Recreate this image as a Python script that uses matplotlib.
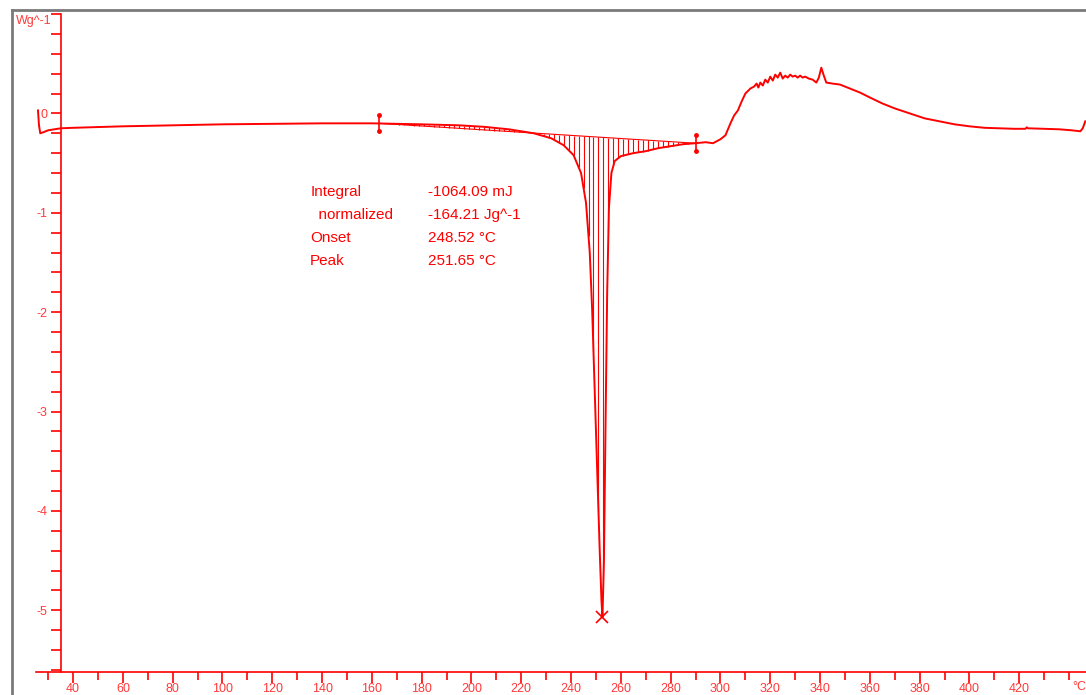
import numpy as np
import matplotlib
matplotlib.use("Agg")
import matplotlib.pyplot as plt
from matplotlib.lines import Line2D

plt.rcParams['font.family'] = ['Liberation Sans', 'DejaVu Sans']

# DSC heat flow curve (temperature in C, heat flow in W/g)
temp = [25.9, 26.3, 26.8, 28, 30, 35, 40, 60, 80, 100, 120, 140, 160, 180, 195, 205,
        215, 225, 232, 237, 241, 244, 246, 247.5, 248.5, 249.5, 250.5, 251.5, 252.2,
        252.6, 253.2, 253.8, 254.5, 255.2, 256.2, 257.5, 260, 265, 270, 275, 280, 285,
        290, 294, 297, 300, 302, 304, 305.5, 307, 308.5, 310, 312, 313.5, 314.5, 315.2,
        316, 317, 318, 319, 320, 321, 322, 323, 324, 325, 326, 327, 328, 329, 330, 331,
        332, 333, 334, 335.5, 337, 338.5, 339.5, 340.5, 341.5, 342.5, 345, 348, 352,
        356, 360, 365, 370, 376, 382, 388, 394, 400, 406, 412, 418, 422.5, 423, 423.5,
        430, 436, 441, 444.5, 445.5, 446.5]
heat = [0.03, -0.12, -0.20, -0.19, -0.17, -0.15, -0.145, -0.13, -0.12, -0.11, -0.105,
        -0.10, -0.10, -0.11, -0.12, -0.135, -0.16, -0.20, -0.25, -0.32, -0.42, -0.60,
        -0.90, -1.40, -2.00, -2.80, -3.60, -4.40, -4.90, -5.07, -4.50, -3.20, -1.80,
        -0.95, -0.60, -0.48, -0.43, -0.40, -0.38, -0.35, -0.33, -0.31, -0.30, -0.29,
        -0.30, -0.26, -0.22, -0.10, -0.02, 0.03, 0.12, 0.20, 0.25, 0.27, 0.30, 0.26,
        0.31, 0.28, 0.34, 0.31, 0.37, 0.33, 0.39, 0.36, 0.41, 0.35, 0.38, 0.36, 0.39,
        0.37, 0.38, 0.36, 0.38, 0.36, 0.37, 0.35, 0.34, 0.31, 0.36, 0.46, 0.38, 0.31,
        0.30, 0.29, 0.25, 0.21, 0.16, 0.10, 0.05, 0.00, -0.05, -0.08, -0.11, -0.13,
        -0.145, -0.15, -0.155, -0.155, -0.14, -0.15, -0.155, -0.16, -0.17, -0.18,
        -0.15, -0.08]

# integration limits and peak
limits_t = [163, 290]
limits_w = [-0.10, -0.30]
peak_t, peak_w = 252.6, -5.07

labels = ["Integral", "  normalized", "Onset", "Peak"]
values = ["-1064.09 mJ", "-164.21 Jg^-1", "248.52 °C", "251.65 °C"]

red = "#ff0000"
lab = "#ff3a3a"

fig = plt.figure(figsize=(10.86, 6.95), dpi=100)
# grey frame of the original window
fig.add_artist(Line2D([12/1086, 12/1086], [0, 685/695], color="#7a7a7a", lw=2))
fig.add_artist(Line2D([12/1086, 1], [685/695, 685/695], color="#7a7a7a", lw=2))

ax = fig.add_axes([36/1086, 23/695, 1050/1086, 658/695])
ax.set_xlim(25.1, 446.8)
ax.set_ylim(-5.62, 1.0)
for s in ["top", "right"]:
    ax.spines[s].set_visible(False)
ax.spines["left"].set_position(("data", 35.2))
for s in ["left", "bottom"]:
    ax.spines[s].set_color(red)
    ax.spines[s].set_linewidth(1.2)
ax.patch.set_alpha(0)

ax.set_xticks(range(40, 421, 20))
ax.set_xticks(range(30, 441, 10), minor=True)
ax.set_yticks([-5, -4, -3, -2, -1, 0, 1])
ax.set_yticklabels(["-5", "-4", "-3", "-2", "-1", "0", ""])
ax.set_yticks(np.arange(-5.6, 1.01, 0.2), minor=True)
ax.tick_params(axis="x", which="major", length=8, width=1.2, color=red, labelcolor=lab,
               labelsize=9, pad=0)
ax.tick_params(axis="x", which="minor", length=6, width=1.2, color=red)
ax.tick_params(axis="y", which="both", length=7, width=1.2, color=red, labelcolor=lab,
               labelsize=9, pad=3)

ax.text(31.5, 0.93, "Wg^-1", color=lab, fontsize=9, ha="right", va="center")
ax.text(446.7, -5.77, "°C", color=lab, fontsize=9, ha="right", va="center", clip_on=False)

# hatched integral area between curve and linear baseline
ht = np.arange(165, 290, 2.0)
base = np.interp(ht, limits_t, limits_w)
curve = np.interp(ht, temp, heat)
ax.vlines(ht, base, curve, color=red, lw=0.8)
ax.plot(limits_t, limits_w, color=red, lw=0.8)

ax.plot(temp, heat, color=red, lw=1.4)

for t, w in zip(limits_t, limits_w):
    ax.plot([t, t], [w - 0.08, w + 0.08], color=red, lw=1.2, marker=".", markersize=5)

ax.plot(peak_t, peak_w, marker="x", color=red, markersize=8, mew=1.2)

for i, (l, v) in enumerate(zip(labels, values)):
    y = -0.79 - 0.23 * i
    ax.text(135.2, y, l, color=red, fontsize=11, va="center", ha="left")
    ax.text(182.6, y, v, color=red, fontsize=11, va="center", ha="left")

plt.savefig("out.png", dpi=100)
